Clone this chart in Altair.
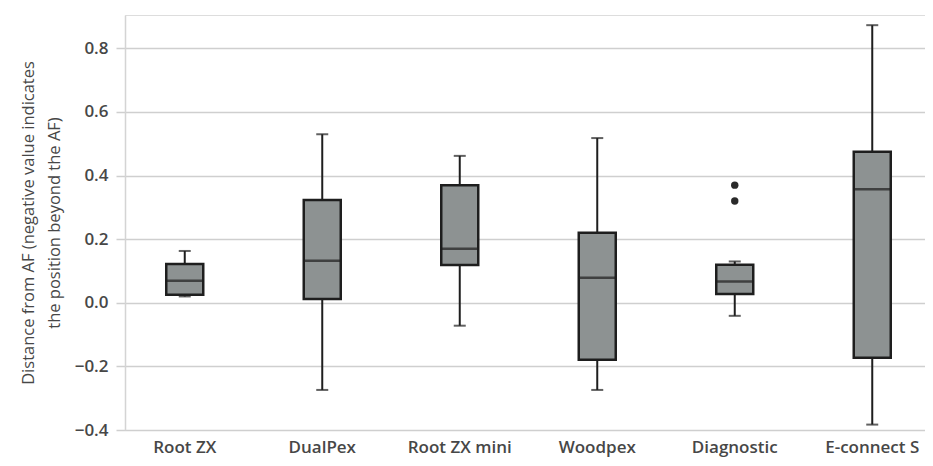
import altair as alt
import pandas as pd

categories = ["Root ZX", "DualPex", "Root ZX mini", "Woodpex", "Diagnostic", "E-connect S"]
mins = [0.02, -0.274, -0.072, -0.274, -0.041, -0.383]
q1s = [0.025, 0.012, 0.119, -0.179, 0.028, -0.173]
medians = [0.069, 0.132, 0.17, 0.079, 0.067, 0.357]
q3s = [0.122, 0.323, 0.37, 0.22, 0.12, 0.475]
maxs = [0.163, 0.53, 0.462, 0.518, 0.13, 0.873]
outlier_cats = ["Diagnostic", "Diagnostic"]
outlier_vals = [0.37, 0.32]
y_ticks = [-0.4, -0.2, 0.0, 0.2, 0.4, 0.6, 0.8]

df = pd.DataFrame({"cat": categories, "lo": mins, "q1": q1s, "med": medians, "q3": q3s, "hi": maxs})
out = pd.DataFrame({"cat": outlier_cats, "v": outlier_vals})

FONT = "Open Sans"
DARK = "#1e1e1e"
FILL = "#8d9292"
TXT = "#474747"

# the original plot area is cropped on the right: band range runs slightly past the visible width
x = alt.X("cat:N", sort=categories, title=None,
          scale=alt.Scale(paddingInner=0, paddingOuter=0, range=[-9, 816]),
          axis=alt.Axis(labelAngle=0, ticks=False, domain=False, labelPadding=9,
                        labelFont=FONT, labelFontSize=17, labelFontWeight=600, labelColor=TXT))
yscale = alt.Scale(domain=[-0.4, 0.905], nice=False, zero=False)
yaxis = alt.Axis(values=y_ticks, format=".1f", ticks=False, domain=True, domainColor="#d4d4d4",
                 domainWidth=1.5, grid=True, gridColor="#cfcfcf", gridWidth=1.5,
                 labelFont=FONT, labelFontSize=17, labelFontWeight=600, labelColor=TXT,
                 labelPadding=17,
                 title=["Distance from AF (negative value indicates", "the position beyond the AF)"],
                 titleFont=FONT, titleFontSize=16.5, titleFontWeight=500, titleColor=TXT,
                 titlePadding=12, titleLineHeight=26)

base = alt.Chart(df)

whisk = base.mark_rule(color=DARK, strokeWidth=2).encode(
    x=x, y=alt.Y("lo:Q", scale=yscale, axis=yaxis), y2="hi:Q")
cap_lo = base.mark_tick(color=DARK, size=12, thickness=2).encode(x=x, y=alt.Y("lo:Q", scale=yscale))
cap_hi = base.mark_tick(color=DARK, size=12, thickness=2).encode(x=x, y=alt.Y("hi:Q", scale=yscale))
box = base.mark_bar(size=37, fill=FILL, stroke=DARK, strokeWidth=2.5).encode(
    x=x, y=alt.Y("q1:Q", scale=yscale), y2="q3:Q")
med = base.mark_tick(color=DARK, size=37, thickness=2.5).encode(x=x, y=alt.Y("med:Q", scale=yscale))
pts = alt.Chart(out).mark_circle(color="#2a2a2a", size=55, opacity=1).encode(
    x=x, y=alt.Y("v:Q", scale=yscale))

chart = alt.layer(whisk, cap_lo, cap_hi, box, med, pts).properties(
    width=800, height=415,
    autosize=alt.AutoSizeParams(type="none"),
    padding={"left": 117, "top": 7, "right": 0, "bottom": 28},
).configure_view(stroke=None).configure(background="white")

chart.save("out.html", embed_options={"renderer": "svg", "actions": False})
